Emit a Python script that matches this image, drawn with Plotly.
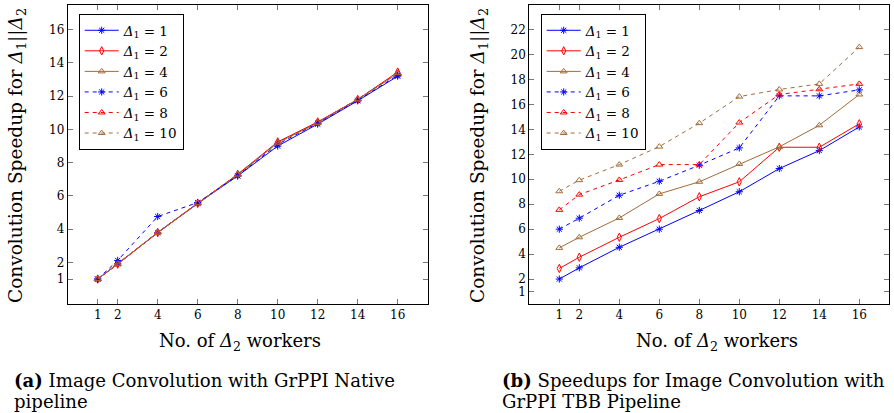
import plotly.graph_objects as go

workers = [1, 2, 4, 6, 8, 10, 12, 14, 16]
series_names = ["<i>Δ</i><sub>1</sub> = 1", "<i>Δ</i><sub>1</sub> = 2", "<i>Δ</i><sub>1</sub> = 4",
                "<i>Δ</i><sub>1</sub> = 6", "<i>Δ</i><sub>1</sub> = 8", "<i>Δ</i><sub>1</sub> = 10"]

# (a) GrPPI Native pipeline
native_d1 = [1.0, 1.92, 3.78, 5.56, 7.2, 9.0, 10.32, 11.72, 13.2]
native_d2 = [1.0, 1.9, 3.8, 5.55, 7.3, 9.25, 10.45, 11.8, 13.45]
native_d4 = [1.0, 1.9, 3.8, 5.55, 7.25, 9.2, 10.4, 11.8, 13.35]
native_d6 = [1.0, 2.12, 4.76, 5.6, 7.22, 9.1, 10.38, 11.75, 13.25]
native_d8 = [1.0, 1.9, 3.82, 5.55, 7.3, 9.22, 10.42, 11.82, 13.4]
native_d10 = [1.0, 1.92, 3.8, 5.56, 7.28, 9.2, 10.4, 11.8, 13.38]

# (b) GrPPI TBB pipeline
tbb_d1 = [2.0, 2.9, 4.55, 6.0, 7.5, 9.0, 10.86, 12.3, 14.2]
tbb_d2 = [2.85, 3.75, 5.35, 6.85, 8.6, 9.8, 12.57, 12.57, 14.45]
tbb_d4 = [4.5, 5.35, 6.9, 8.83, 9.8, 11.23, 12.6, 14.33, 16.8]
tbb_d6 = [6.0, 6.88, 8.72, 9.84, 11.13, 12.52, 16.69, 16.69, 17.17]
tbb_d8 = [7.55, 8.77, 9.95, 11.18, 11.18, 14.55, 16.8, 17.22, 17.65]
tbb_d10 = [9.04, 9.93, 11.18, 12.62, 14.5, 16.63, 17.2, 17.65, 20.6]

left_yticks = [1, 2, 4, 6, 8, 10, 12, 14, 16]
right_yticks = [1, 2, 4, 6, 8, 10, 12, 14, 16, 18, 20, 22]

BLUE = "rgb(0,0,255)"
RED = "rgb(255,0,0)"
BROWN = "rgb(160,108,58)"
styles = [
    (BLUE, "solid", "asterisk-open", 6),
    (RED, "solid", "diamond-tall-open", 6),
    (BROWN, "solid", "triangle-up-open", 6),
    (BLUE, "4px,4px", "asterisk-open", 6),
    (RED, "4px,4px", "triangle-up-open", 6),
    (BROWN, "4px,4px", "triangle-up-open", 6),
]

FONT = "DejaVu Serif"
fig = go.Figure()

for data, xa, ya, lg in [
    ([native_d1, native_d2, native_d4, native_d6, native_d8, native_d10], "x", "y", "legend"),
    ([tbb_d1, tbb_d2, tbb_d4, tbb_d6, tbb_d8, tbb_d10], "x2", "y2", "legend2"),
]:
    for name, vals, (col, dash, sym, sz) in zip(series_names, data, styles):
        fig.add_trace(go.Scatter(
            x=workers, y=vals, name=name, mode="lines+markers",
            xaxis=xa, yaxis=ya, legend=lg,
            line=dict(color=col, width=1, dash=dash),
            marker=dict(symbol=sym, size=sz, color=col, line=dict(color=col, width=1)),
        ))

W, H = 894, 413
def px(x):
    return x / W
def py(y):
    return 1 - y / H

axis_common = dict(
    showline=True, linecolor="black", linewidth=1, mirror="allticks",
    ticks="inside", ticklen=5, tickcolor="rgb(120,120,120)", tickwidth=1,
    showgrid=False, zeroline=False,
    tickfont=dict(family=FONT, size=12, color="black"),
)

legend_common = dict(
    xanchor="left", yanchor="top",
    bgcolor="white", bordercolor="black", borderwidth=1,
    font=dict(family=FONT, size=13.5, color="black"),
    tracegroupgap=0, itemwidth=34,
)

fig.update_layout(
    width=W, height=H,
    margin=dict(l=0, r=0, t=0, b=0),
    paper_bgcolor="white", plot_bgcolor="white",
    font=dict(family=FONT, color="black"),
    showlegend=True,
    xaxis=dict(domain=[px(67.7), px(427.7)], range=[-0.5, 17.5], tickvals=workers,
               anchor="y", **axis_common),
    yaxis=dict(domain=[py(304), py(4.7)], range=[-0.5, 17.5], tickvals=left_yticks,
               anchor="x", **axis_common),
    xaxis2=dict(domain=[px(529.3), px(889.3)], range=[-0.5, 17.5], tickvals=workers,
                anchor="y2", **axis_common),
    yaxis2=dict(domain=[py(304), py(4.7)], range=[0, 24], tickvals=right_yticks,
                anchor="x2", **axis_common),
    legend=dict(x=px(78.7), y=py(14), **legend_common),
    legend2=dict(x=px(540.7), y=py(14), **legend_common),
)

ytitle = "Convolution Speedup for <i>Δ</i><sub>1</sub>||<i>Δ</i><sub>2</sub>"
xtitle = "No. of <i>Δ</i><sub>2</sub> workers"
ann = [
    dict(text=ytitle, x=px(17), y=py(156), textangle=-90, font=dict(size=18.5)),
    dict(text=ytitle, x=px(479), y=py(156), textangle=-90, font=dict(size=18.5)),
    dict(text=xtitle, x=px(240), y=py(342), font=dict(size=18)),
    dict(text=xtitle, x=px(717), y=py(342), font=dict(size=18)),
]
for a in ann:
    fig.add_annotation(xref="paper", yref="paper", showarrow=False,
                       xanchor="center", yanchor="middle", **a)

cap_font = dict(size=18.1)
fig.add_annotation(xref="paper", yref="paper", showarrow=False, xanchor="left", yanchor="middle",
                   x=px(12), y=py(380), text="<b>(a)</b> Image Convolution with GrPPI Native",
                   font=cap_font)
fig.add_annotation(xref="paper", yref="paper", showarrow=False, xanchor="left", yanchor="middle",
                   x=px(12), y=py(401), text="pipeline", font=cap_font)
fig.add_annotation(xref="paper", yref="paper", showarrow=False, xanchor="left", yanchor="middle",
                   x=px(500), y=py(380), text="<b>(b)</b> Speedups for Image Convolution with",
                   font=cap_font)
fig.add_annotation(xref="paper", yref="paper", showarrow=False, xanchor="left", yanchor="middle",
                   x=px(500), y=py(401), text="GrPPI TBB Pipeline", font=cap_font)

fig.write_html("out.html")
